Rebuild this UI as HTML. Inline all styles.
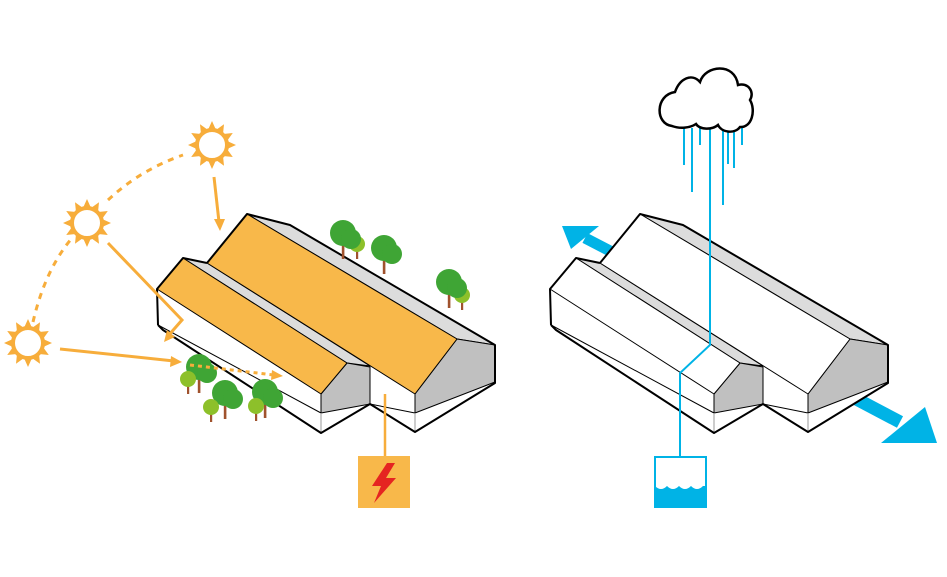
<!DOCTYPE html>
<html><head><style>html,body{margin:0;padding:0;background:#fff}svg{display:block}</style></head>
<body>
<svg width="947" height="577" viewBox="0 0 947 577" xmlns="http://www.w3.org/2000/svg">
<defs>
<g id="sun">
  <g fill="#f7ad3b">
    <polygon points="0,-24 4.5,-14 -4.5,-14" transform="rotate(0)"/>
    <polygon points="0,-24 4.5,-14 -4.5,-14" transform="rotate(30)"/>
    <polygon points="0,-24 4.5,-14 -4.5,-14" transform="rotate(60)"/>
    <polygon points="0,-24 4.5,-14 -4.5,-14" transform="rotate(90)"/>
    <polygon points="0,-24 4.5,-14 -4.5,-14" transform="rotate(120)"/>
    <polygon points="0,-24 4.5,-14 -4.5,-14" transform="rotate(150)"/>
    <polygon points="0,-24 4.5,-14 -4.5,-14" transform="rotate(180)"/>
    <polygon points="0,-24 4.5,-14 -4.5,-14" transform="rotate(210)"/>
    <polygon points="0,-24 4.5,-14 -4.5,-14" transform="rotate(240)"/>
    <polygon points="0,-24 4.5,-14 -4.5,-14" transform="rotate(270)"/>
    <polygon points="0,-24 4.5,-14 -4.5,-14" transform="rotate(300)"/>
    <polygon points="0,-24 4.5,-14 -4.5,-14" transform="rotate(330)"/>
  </g>
  <circle r="15" fill="#fff" stroke="#f7ad3b" stroke-width="4"/>
</g>
<g id="tree">
  <rect x="-1.2" y="0" width="2.6" height="16" fill="#a0522d"/>
  <circle cx="0" cy="-10" r="13" fill="#3fa535"/>
  <circle cx="8" cy="-4" r="10" fill="#3fa535"/>
</g>
<g id="ltree">
  <rect x="-1" y="0" width="2.2" height="12" fill="#a0522d"/>
  <circle cx="0" cy="-3" r="8" fill="#8dc02a"/>
</g>
</defs>

<!-- sun path dashed -->
<path d="M33,322 Q45,270 72,238" fill="none" stroke="#f7ad3b" stroke-width="3" stroke-dasharray="6,6"/>
<path d="M108,200 Q140,170 183,155" fill="none" stroke="#f7ad3b" stroke-width="3" stroke-dasharray="6,6"/>

<use href="#sun" x="212" y="145"/>
<use href="#sun" x="87" y="223"/>
<use href="#sun" x="28" y="343"/>

<!-- left building -->
<g stroke="#000" stroke-linejoin="round">
  <polygon points="158,289 158,325 321,433 370,404 415,432 495,383 495,345 290,225 247,214 207,263 183,258" fill="#fff" stroke="none"/>
  <polygon points="247,214 290,225 495,345 457,339" fill="#dcdcdc" stroke-width="1"/>
  <polygon points="457,339 495,345 495,382 415,413 415,394" fill="#c0c0c0" stroke-width="1"/>
  <polygon points="183,258 207,263 370,366 347,363" fill="#dcdcdc" stroke-width="1"/>
  <polygon points="247,214 457,339 415,394 207,263" fill="#f8b84a" stroke-width="1"/>
  <polygon points="347,363 370,367 370,404 321,413 321,394" fill="#c0c0c0" stroke-width="1"/>
  <polygon points="183,258 347,363 321,394 157,289" fill="#f8b84a" stroke-width="1"/>
  <polyline points="157,289 158,325 321,413" fill="none" stroke-width="1"/>
  <polyline points="370,404 415,413" fill="none" stroke-width="1"/>
  <line x1="321" y1="413" x2="321" y2="433" stroke="#999" stroke-width="1"/>
  <line x1="415" y1="413" x2="415" y2="432" stroke="#999" stroke-width="1"/>
  <polyline points="158,325 163,330 321,433 370,404 415,432 495,383 495,345 290,225 247,214 207,263" fill="none" stroke-width="2"/>
  <polyline points="207,263 183,258 157,289 158,325" fill="none" stroke-width="2"/>
</g>

<g stroke="#f7ad3b" stroke-width="3" fill="none">
  <line x1="214" y1="177" x2="219" y2="222"/>
  <polyline points="108,243 182,320 168,336"/>
  <line x1="60" y1="349" x2="174" y2="361"/>
</g>
<g fill="#f7ad3b">
  <polygon points="220,231 214,219 225,219"/>
  <polygon points="164,342 167,330 175,337"/>
  <polygon points="182,362 171,356 170,367"/>
</g>

<!-- trees left -->
<use href="#ltree" x="357" y="247"/>
<use href="#tree" x="343" y="243"/>
<use href="#tree" x="384" y="258"/>
<use href="#ltree" x="462" y="298"/>
<use href="#tree" x="449" y="292"/>
<use href="#tree" x="199" y="377"/>
<use href="#ltree" x="188" y="382"/>
<use href="#tree" x="225" y="403"/>
<use href="#ltree" x="211" y="410"/>
<use href="#tree" x="265" y="402"/>
<use href="#ltree" x="256" y="409"/>

<!-- dotted arrow -->
<line x1="190" y1="365" x2="274" y2="375" stroke="#f7ad3b" stroke-width="3" stroke-dasharray="4,4"/>
<polygon points="283,376 272,370 271,380" fill="#f7ad3b"/>

<!-- power -->
<line x1="385" y1="394" x2="385" y2="456" stroke="#f7ad3b" stroke-width="2.5"/>
<rect x="358" y="456" width="52" height="52" fill="#f8b84a"/>
<polygon points="387,463 372,486 381,486 374,503 396,478 386,478 395,463" fill="#e52421"/>

<!-- right blue arrows -->
<line x1="612" y1="252" x2="585" y2="238" stroke="#00b3e6" stroke-width="11"/>
<polygon points="562,226 599,226 571,249" fill="#00b3e6"/>
<line x1="845" y1="393" x2="900" y2="422" stroke="#00b3e6" stroke-width="13"/>
<polygon points="937,443 881,443 925,407" fill="#00b3e6"/>

<!-- right building -->
<g transform="translate(393,0)" stroke="#000" stroke-linejoin="round">
  <polygon points="158,289 158,325 321,433 370,404 415,432 495,383 495,345 290,225 247,214 207,263 183,258" fill="#fff" stroke="none"/>
  <polygon points="247,214 290,225 495,345 457,339" fill="#dcdcdc" stroke-width="1"/>
  <polygon points="457,339 495,345 495,382 415,413 415,394" fill="#c0c0c0" stroke-width="1"/>
  <polygon points="183,258 207,263 370,366 347,363" fill="#dcdcdc" stroke-width="1"/>
  <polygon points="247,214 457,339 415,394 207,263" fill="#fff" stroke-width="1"/>
  <polygon points="347,363 370,367 370,404 321,413 321,394" fill="#c0c0c0" stroke-width="1"/>
  <polygon points="183,258 347,363 321,394 157,289" fill="#fff" stroke-width="1"/>
  <polyline points="157,289 158,325 321,413" fill="none" stroke-width="1"/>
  <polyline points="370,404 415,413" fill="none" stroke-width="1"/>
  <line x1="321" y1="413" x2="321" y2="433" stroke="#999" stroke-width="1"/>
  <line x1="415" y1="413" x2="415" y2="432" stroke="#999" stroke-width="1"/>
  <polyline points="158,325 163,330 321,433 370,404 415,432 495,383 495,345 290,225 247,214 207,263" fill="none" stroke-width="2"/>
  <polyline points="207,263 183,258 157,289 158,325" fill="none" stroke-width="2"/>
</g>

<!-- rain -->
<g stroke="#00b3e6" stroke-width="2">
  <line x1="684" y1="128" x2="684" y2="165"/>
  <line x1="692" y1="128" x2="692" y2="192"/>
  <line x1="700" y1="128" x2="700" y2="145"/>
  <line x1="723" y1="128" x2="723" y2="205"/>
  <line x1="728" y1="128" x2="728" y2="164"/>
  <line x1="734" y1="128" x2="734" y2="168"/>
  <line x1="742" y1="128" x2="742" y2="145"/>
</g>
<polyline points="710,128 710,345 680,373 680,456" fill="none" stroke="#00b3e6" stroke-width="2"/>
<!-- cloud -->
<path d="M672,126 C655,124 655,95 675,92 C680,78 692,73 700,82 C705,65 735,62 738,85 C748,82 755,92 750,100 C756,110 752,128 740,127 C735,134 722,133 718,125 C712,130 700,130 696,124 C690,128 680,129 672,126 Z" fill="#fff" stroke="#000" stroke-width="2.5"/>

<!-- water tank -->
<rect x="655" y="457" width="51" height="50" fill="#fff" stroke="#00b3e6" stroke-width="2"/>
<path d="M655,486 Q661,492 667,486 Q673,492 679,486 Q685,492 691,486 Q697,492 703,486 L706,486 L706,508 L655,508 Z" fill="#00b3e6"/>
</svg>
</body></html>
